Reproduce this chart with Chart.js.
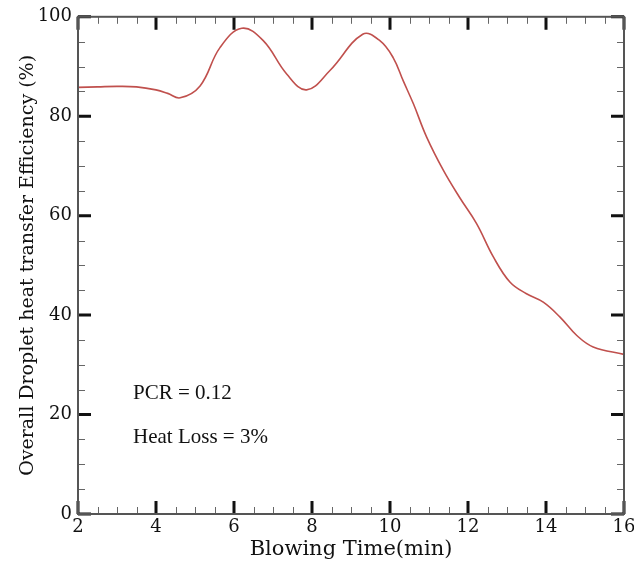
<!DOCTYPE html>
<html>
<head>
<meta charset="utf-8">
<script src="https://cdn.jsdelivr.net/npm/chart.js@4"></script>
<style>
  html, body { margin: 0; padding: 0; background: #fff; }
  #wrap { width: 634px; height: 562px; position: relative; }
</style>
</head>
<body>
<div id="wrap"><canvas id="effChart"></canvas></div>
<script>
const blowingTime = [2, 2.5, 3, 3.5, 4, 4.3, 4.62, 5.13, 5.64, 6.2, 6.75, 7.35, 7.86, 8.46, 9.3,
    9.74, 10.08, 10.34, 10.6, 10.94, 11.37, 11.79, 12.22, 12.65, 13.08, 13.5, 13.93, 14.36, 14.79, 15.21, 16];
const efficiency = [85.8, 85.9, 86.0, 85.9, 85.3, 84.6, 83.7, 86.1, 93.8, 97.7, 95.2, 88.5, 85.3, 89.2, 96.5,
    95.2, 91.8, 87.1, 82.5, 75.8, 69.1, 63.6, 58.4, 51.7, 46.6, 44.3, 42.6, 39.6, 35.9, 33.6, 32.1];
const xTicks = [2, 4, 6, 8, 10, 12, 14, 16];
const yTicks = [0, 20, 40, 60, 80, 100];
const notes = ['PCR = 0.12', 'Heat Loss = 3%'];

const axisFont = 'DejaVu Serif';

// inward ticks on all four sides plus the frame
const frameTicks = {
    id: 'frameTicks',
    afterDraw(chart) {
        const ctx = chart.ctx;
        const a = chart.chartArea;
        const xs = chart.scales.x, ys = chart.scales.y;
        ctx.save();
        ctx.lineCap = 'butt';
        // minor
        ctx.strokeStyle = '#666';
        ctx.lineWidth = 1;
        for (let v = 2.5; v < 16; v += 0.5) {
            if (v % 2 === 0) continue;
            const px = Math.round(xs.getPixelForValue(v)) + 0.5;
            ctx.beginPath();
            ctx.moveTo(px, a.bottom); ctx.lineTo(px, a.bottom - 7);
            ctx.moveTo(px, a.top); ctx.lineTo(px, a.top + 7);
            ctx.stroke();
        }
        for (let v = 5; v < 100; v += 5) {
            if (v % 20 === 0) continue;
            const py = Math.round(ys.getPixelForValue(v)) + 0.5;
            ctx.beginPath();
            ctx.moveTo(a.left, py); ctx.lineTo(a.left + 7, py);
            ctx.moveTo(a.right, py); ctx.lineTo(a.right - 7, py);
            ctx.stroke();
        }
        // major
        ctx.strokeStyle = '#111';
        ctx.lineWidth = 3;
        xTicks.forEach(v => {
            const px = xs.getPixelForValue(v);
            ctx.beginPath();
            ctx.moveTo(px, a.bottom); ctx.lineTo(px, a.bottom - 13);
            ctx.moveTo(px, a.top); ctx.lineTo(px, a.top + 13);
            ctx.stroke();
        });
        yTicks.forEach(v => {
            const py = ys.getPixelForValue(v);
            ctx.beginPath();
            ctx.moveTo(a.left, py); ctx.lineTo(a.left + 13, py);
            ctx.moveTo(a.right, py); ctx.lineTo(a.right - 13, py);
            ctx.stroke();
        });
        // frame
        ctx.strokeStyle = '#555';
        ctx.lineWidth = 2;
        ctx.strokeRect(a.left, a.top, a.right - a.left, a.bottom - a.top);
        // notes
        ctx.fillStyle = '#111';
        ctx.font = '21px "Liberation Serif"';
        ctx.textBaseline = 'alphabetic';
        ctx.textAlign = 'left';
        ctx.fillText(notes[0], 133, 399);
        ctx.fillText(notes[1], 133, 443);
        ctx.restore();
    }
};

new Chart(document.getElementById('effChart'), {
    type: 'line',
    data: {
        datasets: [{
            data: blowingTime.map((t, i) => ({ x: t, y: efficiency[i] })),
            borderColor: '#c0504d',
            borderWidth: 1.6,
            pointRadius: 0,
            tension: 0.4,
            fill: false
        }]
    },
    options: {
        responsive: true,
        maintainAspectRatio: false,
        animation: false,
        layout: { padding: { top: 16, right: 10, left: 0, bottom: 0 } },
        plugins: { legend: { display: false }, tooltip: { enabled: false } },
        scales: {
            x: {
                type: 'linear',
                min: 2, max: 16,
                afterBuildTicks: s => { s.ticks = xTicks.map(v => ({ value: v })); },
                afterFit: s => { s.height = 48; s.paddingRight = 0; s.paddingLeft = 0; },
                grid: { display: false, drawTicks: false },
                border: { display: false },
                ticks: {
                    color: '#111',
                    padding: 3,
                    font: { family: axisFont, size: 18 }
                },
                title: {
                    display: true,
                    text: 'Blowing Time(min)',
                    color: '#111',
                    padding: { top: -9, bottom: 0 },
                    font: { family: axisFont, size: 21 }
                }
            },
            y: {
                min: 0, max: 100,
                afterBuildTicks: s => { s.ticks = yTicks.map(v => ({ value: v })); },
                afterFit: s => { s.width = 78; },
                grid: { display: false, drawTicks: false },
                border: { display: false },
                ticks: {
                    color: '#111',
                    padding: 6,
                    font: { family: axisFont, size: 18 }
                },
                title: {
                    display: true,
                    text: 'Overall Droplet heat transfer Efficiency (%)',
                    color: '#111',
                    padding: { top: 17, bottom: 0 },
                    font: { family: axisFont, size: 19 }
                }
            }
        }
    },
    plugins: [frameTicks]
});
</script>
</body>
</html>
